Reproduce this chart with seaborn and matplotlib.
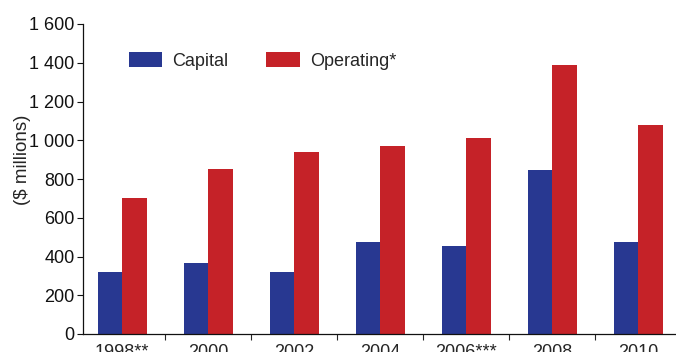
import numpy as np
import pandas as pd
import matplotlib
matplotlib.use("Agg")
import matplotlib.pyplot as plt
from matplotlib.ticker import FuncFormatter, FixedLocator
import seaborn as sns

# Data
years = ["1998**", "2000", "2002", "2004", "2006***", "2008", "2010"]
capital = [320, 366, 320, 475, 452, 848, 475]
operating = [700, 852, 940, 970, 1010, 1390, 1080]
series_names = ["Capital", "Operating*"]
colors = ["#283891", "#C52228"]

df = pd.DataFrame({
    "year": years * 2,
    "value": capital + operating,
    "series": [series_names[0]] * len(years) + [series_names[1]] * len(years),
})

sns.set_style("ticks")
plt.rcParams["font.family"] = ["Liberation Sans", "DejaVu Sans"]

W, H = 676, 352
fig = plt.figure(figsize=(W / 100, H / 100), dpi=100)
ax = fig.add_axes([83 / W, 18 / H, 1 - 83 / W, 310 / H])

sns.barplot(data=df, x="year", y="value", hue="series", palette=colors,
            width=0.57, saturation=1, ax=ax, edgecolor="none")

ax.set_ylim(0, 1600)
ax.set_xlim(-0.455, 6.44)
ax.set_yticks(np.arange(0, 1601, 200))
ax.yaxis.set_major_formatter(FuncFormatter(lambda v, p: f"{int(v):,}".replace(",", " ")))
ax.tick_params(axis="y", labelsize=13, length=4, width=0.8, pad=2, colors="#111111")
ax.tick_params(axis="x", which="major", labelsize=13, length=0, pad=7)
ax.xaxis.set_minor_locator(FixedLocator(np.arange(0.5, 6, 1.0)))
ax.tick_params(axis="x", which="minor", length=4, width=0.8)

ax.set_xlabel("")
ax.set_ylabel("($ millions)", fontsize=13.5)
ax.yaxis.set_label_coords(31 / W, 1 - 160 / H, transform=fig.transFigure)

for side in ["top", "right"]:
    ax.spines[side].set_visible(False)
for side in ["left", "bottom"]:
    ax.spines[side].set_linewidth(0.9)
    ax.spines[side].set_color("#111111")

ax.legend(loc="center left", bbox_to_anchor=(129 / W, 1 - 61 / H),
          bbox_transform=fig.transFigure, ncol=2, frameon=False,
          fontsize=13, handlelength=1.85, handleheight=0.9, columnspacing=2.1,
          handletextpad=0.55, borderpad=0, borderaxespad=0)

fig.savefig("out.png", dpi=100)
